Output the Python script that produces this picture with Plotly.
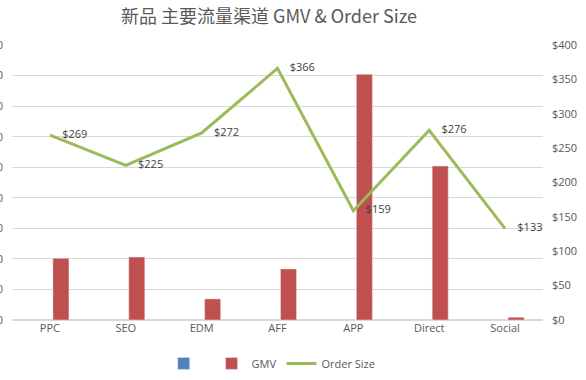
import plotly.graph_objects as go

categories = ["PPC", "SEO", "EDM", "AFF", "APP", "Direct", "Social"]
gmv = [202000, 206000, 69000, 167000, 804000, 504000, 9000]
empty_series = [None, None, None, None, None, None, None]
order_size = [269, 225, 272, 366, 159, 276, 133]
order_labels = ["$269", "$225", "$272", "$366", "$159", "$276", "$133"]

grey = "#595959"
fig = go.Figure()
fig.add_trace(go.Bar(x=categories, y=empty_series, name=" ", marker_color="#4F81BD",
                     showlegend=True))
fig.add_trace(go.Bar(x=categories, y=gmv, name="GMV", marker_color="#C0504D"))
fig.add_trace(go.Scatter(x=categories, y=order_size, name="Order Size", yaxis="y2",
                         mode="lines+markers+text", text=order_labels, textposition="middle right",
                         marker=dict(size=18, color="rgba(0,0,0,0)"),
                         textfont=dict(size=11, color="#404040"),
                         line=dict(color="#9BBB59", width=3)))

fig.update_layout(
    width=586, height=380,
    margin=dict(l=12, r=43, t=45, b=60, autoexpand=False),
    paper_bgcolor="white", plot_bgcolor="white",
    font=dict(family="Open Sans, Noto Sans CJK SC", size=11, color=grey),
    title=dict(text="新品 主要流量渠道 GMV & Order Size", x=0.459, xanchor="center",
               y=0.955, yanchor="middle",
               font=dict(family="Noto Sans CJK SC", size=18, color=grey)),
    barmode="group", bargap=0.42, bargroupgap=0.27,
    xaxis=dict(showgrid=False, showline=False, ticks="", automargin=False,
               tickfont=dict(size=11, color=grey)),
    yaxis=dict(range=[0, 900000], dtick=100000, showgrid=True, gridcolor="#D9D9D9",
               zeroline=True, zerolinecolor="#D9D9D9", tickformat=",", automargin=False,
               ticklabelstandoff=8, tickfont=dict(size=11, color=grey)),
    yaxis2=dict(range=[0, 400], dtick=50, overlaying="y", side="right", showgrid=False,
                zeroline=False, tickprefix="$", tickfont=dict(size=11, color=grey),
                ticklabelstandoff=8, automargin=False),
    legend=dict(orientation="h", x=0.49, xanchor="center", y=-0.105, yanchor="top",
                font=dict(size=11, color=grey), traceorder="normal"),
)

fig.write_html("out.html", config={"displayModeBar": False},
               post_script="document.body.style.margin='0';")
